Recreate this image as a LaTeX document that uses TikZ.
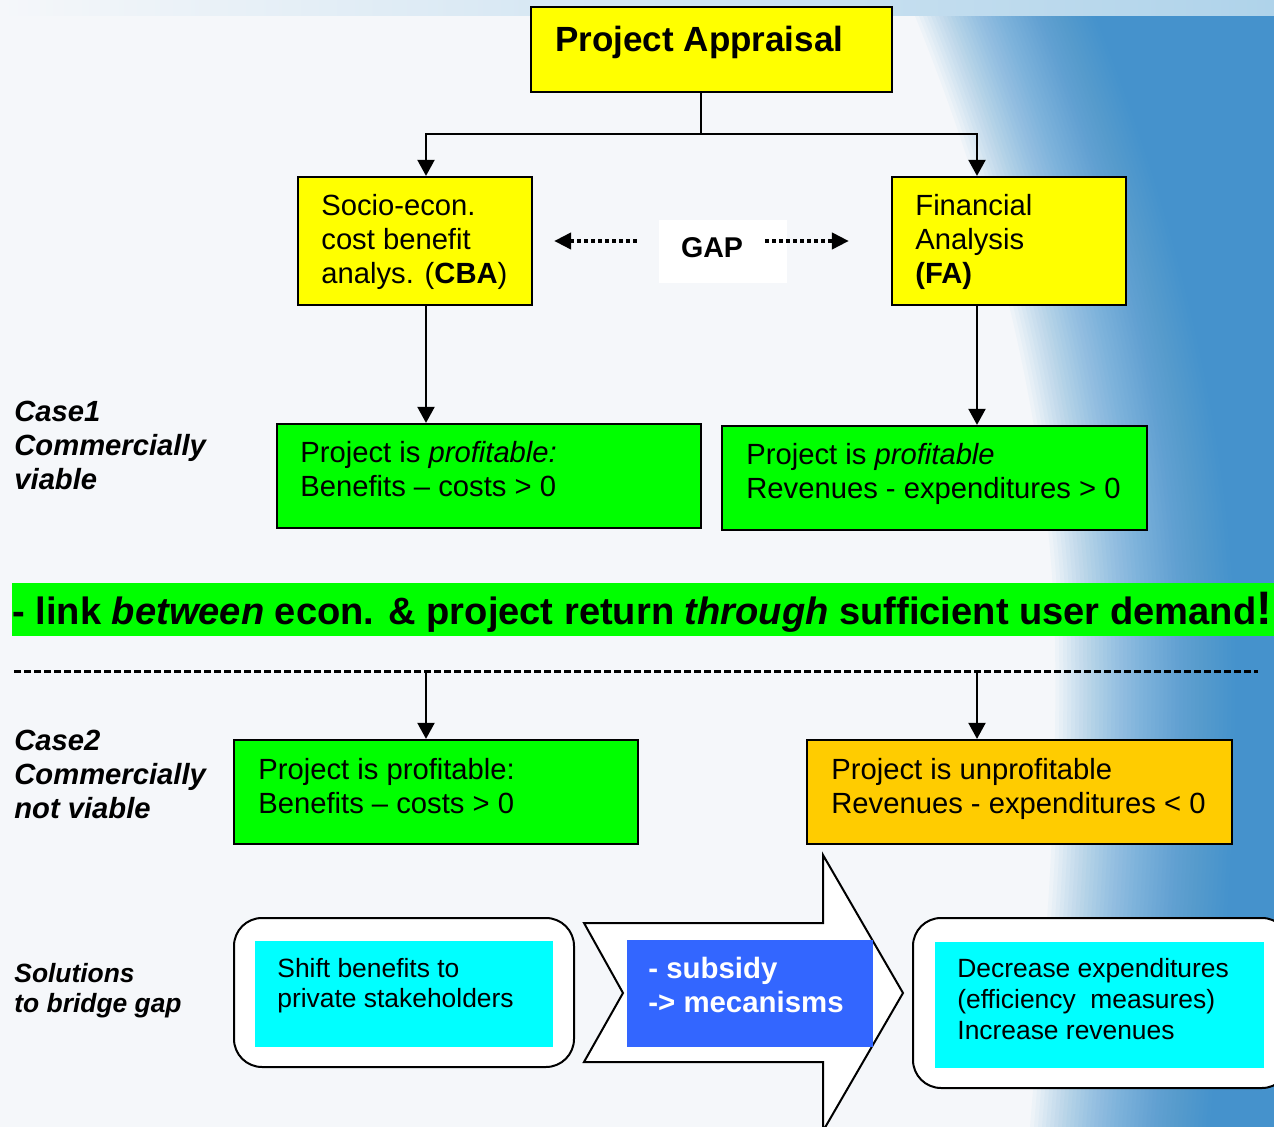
\documentclass[tikz,border=0pt]{standalone}
\usepackage{fontspec}
\setmainfont{Liberation Sans}
\usetikzlibrary{arrows.meta,fit,calc}

\definecolor{bgbase}{HTML}{F5F7FA}
\definecolor{bandmid}{HTML}{E2EFF7}
\definecolor{bandright}{HTML}{AFD3EA}
\definecolor{swoosh}{HTML}{2A86CC}
\definecolor{boxyellow}{HTML}{FFFF00}
\definecolor{boxgreen}{HTML}{00FF00}
\definecolor{boxorange}{HTML}{FFCC00}
\definecolor{boxcyan}{HTML}{00FFFF}
\definecolor{boxblue}{HTML}{3366FF}

\tikzset{
  box/.style={draw=black, line width=1.1pt, inner sep=0pt},
  ybox/.style={box, fill=boxyellow},
  gbox/.style={box, fill=boxgreen},
  obox/.style={box, fill=boxorange},
  roundframe/.style={draw=black, line width=1pt, fill=white, rounded corners=14pt, inner sep=0pt},
  cyanbox/.style={fill=boxcyan, inner sep=0pt},
  bluebox/.style={fill=boxblue, inner sep=0pt},
  % multi-line texts are anchored at the baseline of their last line
  txt/.style={anchor=base west, inner sep=0pt, align=left, font=\fontsize{14.6}{17}\selectfont},
  smalltxt/.style={anchor=base west, inner sep=0pt, align=left, font=\fontsize{13.2}{15}\selectfont},
  flow/.style={line width=1pt, -{Triangle[length=8pt,width=8.5pt]}},
  plain/.style={line width=1pt},
  dotflow/.style={line width=2pt, dash pattern=on 2pt off 1.5pt, -{Triangle[length=8.5pt,width=8pt]}},
  sepline/.style={line width=1.5pt, dash pattern=on 3.5pt off 1.5pt},
}

\begin{document}
\begin{tikzpicture}[x=0.5pt, y=-0.5pt]
\useasboundingbox (0,0) rectangle (1274,1127);

% background with the blue swoosh on the right, built up from thin translucent layers
\fill[bgbase] (0,0) rectangle (1274,1127);
\foreach \k in {-60,-56,...,120} {
  \fill[swoosh, opacity=0.036]
    (975+\k,16) .. controls (1050+\k,200) and (1110+\k,420) .. (1115+\k,640)
    .. controls (1118+\k,850) and (1100+\k,1000) .. (1090+\k,1127)
    -- (1274,1127) -- (1274,16) -- cycle;
}
\shade[left color=bgbase, middle color=bandmid, right color=bandright] (0,0) rectangle (1274,16);

% column positions of the vertical connectors
\coordinate (colA) at (426,0);
\coordinate (colB) at (977,0);
\coordinate (split) at (701,134);

% top level
\node[ybox, fit={(531,7) (892,92)}] (pa) {};
\node[anchor=base west, inner sep=0pt, font=\fontsize{17.5}{20}\selectfont\bfseries] (patext) at (555,52) {Project Appraisal};

\node[ybox, fit={(298,177) (532,305)}] (cba) {};
\node[txt] (cbatext) at (321,284) {Socio-econ.\\cost benefit\\analys. (\textbf{CBA})};

\node[ybox, fit={(892,177) (1126,305)}] (fa) {};
\node[txt] (fatext) at (915,284) {Financial\\Analysis\\\textbf{(FA)}};

\node[fill=white, inner sep=0pt, fit={(659,220) (787,283)}] (gap) {};
\node[inner sep=0pt, font=\fontsize{14.3}{17}\selectfont\bfseries] (gaptext) at (712,248) {GAP};

\draw[plain] (pa.south -| split) -- (split);
\draw[flow] (split) -| (cba.north -| colA);
\draw[flow] (split) -| (fa.north -| colB);
\draw[dotflow] ($(gap.west |- cba.east)+(-22,0)$) -- ($(cba.east)+(21,0)$);
\draw[dotflow] ($(gap.east |- fa.west)+(-22,0)$) -- ($(fa.west)+(-42,0)$);

% case 1
\node[txt, font=\fontsize{14.6}{17}\selectfont\bfseries\itshape] (case1) at (14,490) {Case1\\Commercially\\viable};

\node[gbox, fit={(277,424) (701,528)}] (g1) {};
\node[txt] (g1text) at (300,497) {Project is \textit{profitable:}\\Benefits -- costs > 0};

\node[gbox, fit={(722,426) (1147,530)}] (g2) {};
\node[txt] (g2text) at (746,499) {Project is \textit{profitable}\\Revenues - expenditures > 0};

\draw[flow] (cba.south -| colA) -- (g1.north -| colA);
\draw[flow] (fa.south -| colB) -- (g2.north -| colB);

% banner
\node[fill=boxgreen, inner sep=0pt, fit={(12,583) (1274,636)}] (banner) {};
\node[anchor=base west, inner sep=0pt, font=\fontsize{19.05}{22}\selectfont\bfseries] (bannertext) at (12,625)
  {- link \textit{between} econ. \& project return \textit{through} sufficient user demand{\fontsize{23.5}{26}\selectfont !}};

% separator
\coordinate (sepL) at (14,672);
\coordinate (sepR) at (1258,672);
\draw[sepline] (sepL) -- (sepR);

% case 2
\node[txt, font=\fontsize{14.6}{17}\selectfont\bfseries\itshape] (case2) at (14,818) {Case2\\Commercially\\not viable};

\node[gbox, fit={(234,740) (638,844)}] (g3) {};
\node[txt] (g3text) at (258,813) {Project is profitable:\\Benefits -- costs > 0};

\node[obox, fit={(807,740) (1232,844)}] (o1) {};
\node[txt] (o1text) at (831,813) {Project is unprofitable\\Revenues - expenditures < 0};

\draw[flow] (sepL -| colA) -- (g3.north -| colA);
\draw[flow] (sepL -| colB) -- (o1.north -| colB);

% solutions
\node[smalltxt, font=\fontsize{13.2}{15}\selectfont\bfseries\itshape] (sol) at (14,1012) {Solutions\\to bridge gap};

\node[roundframe, fit={(234,918) (574,1067)}] (lframe) {};
\node[cyanbox, fit={(255,941) (553,1047)}] (lcyan) {};
\node[smalltxt] (ltext) at (277,1007) {Shift benefits to\\private stakeholders};

\draw[line width=1pt, fill=white] (584,923) -- (823,923) -- (823,855) -- (903,993)
  -- (823,1131) -- (823,1062) -- (584,1062) -- (623,993) -- cycle;
\node[bluebox, fit={(627,940) (873,1047)}] (sub) {};
\node[txt, font=\fontsize{14.7}{17}\selectfont\bfseries, text=white] (subtext) at (648,1012) {- subsidy\\-> mecanisms};

\node[roundframe, fit={(913,918) (1290,1088)}] (rframe) {};
\node[cyanbox, fit={(935,942) (1264,1068)}] (rcyan) {};
\node[anchor=base west, inner sep=0pt, align=left, font=\fontsize{13.2}{15.5}\selectfont] (rtext) at (957,1039)
  {Decrease expenditures\\(efficiency\ \ measures)\\Increase revenues};
\end{tikzpicture}
\end{document}
